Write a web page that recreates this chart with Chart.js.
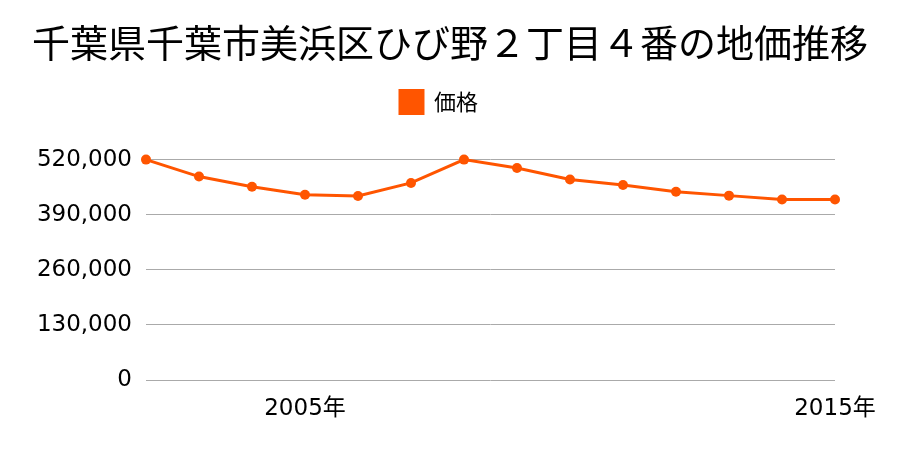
<!doctype html>
<html lang="ja">
<head>
  <meta charset="utf-8">
  <title>千葉県千葉市美浜区ひび野２丁目４番の地価推移</title>
  <script src="https://cdn.jsdelivr.net/npm/chart.js"></script>
  <style>
    html, body { margin: 0; background: #fff; }
    #wrap { width: 900px; height: 450px; }
  </style>
</head>
<body>
  <div id="wrap"><canvas id="chart"></canvas></div>
  <script>
    const years  = ['2002', '2003', '2004', '2005', '2006', '2007', '2008',
                    '2009', '2010', '2011', '2012', '2013', '2014', '2015'];
    const prices = [520000, 480000, 456000, 437000, 434000, 465000, 520000,
                    500000, 473000, 460000, 444000, 435000, 426000, 426000];
    const shownYears = ['2005', '2015'];
    const yTicks = [0, 130000, 260000, 390000, 520000];

    const cjk = "'Noto Sans CJK JP', sans-serif";
    const num = "'DejaVu Sans', 'Noto Sans CJK JP', sans-serif";
    const orange = '#ff5500';

    // extra room under the legend
    const legendGap = {
      id: 'legendGap',
      beforeInit(chart) {
        const fit = chart.legend.fit;
        chart.legend.fit = function () {
          fit.bind(chart.legend)();
          this.height += 36;
        };
      }
    };

    new Chart(document.getElementById('chart'), {
      type: 'line',
      data: {
        labels: years.map(y => y + '年'),
        datasets: [{
          label: '価格　',   // trailing full-width space nudges the legend left like the original
          data: prices,
          borderColor: orange,
          backgroundColor: orange,
          borderWidth: 3,
          pointRadius: 5,
          pointBorderWidth: 0,
          pointHoverRadius: 5,
          tension: 0,
          clip: false
        }]
      },
      options: {
        responsive: true,
        maintainAspectRatio: false,
        animation: false,
        layout: { padding: { left: 0, right: 0, top: 10, bottom: 20 } },
        plugins: {
          title: {
            display: true,
            text: '千葉県千葉市美浜区ひび野２丁目４番の地価推移',
            color: '#000',
            font: { family: cjk, size: 38, weight: 'normal' },
            padding: { top: 10, bottom: 13 }
          },
          legend: {
            labels: {
              color: '#000',
              boxWidth: 23,
              boxHeight: 23,
              font: { family: cjk, size: 22 },
              padding: 12
            }
          },
          tooltip: { enabled: false }
        },
        scales: {
          x: {
            offset: false,
            grid: { display: false },
            border: { display: false },
            afterFit: s => { s.height = 50; },
            ticks: {
              autoSkip: false,
              maxRotation: 0,
              color: '#000',
              padding: 7,
              font: { family: num, size: 23 },
              callback: function (v, i) {
                return shownYears.includes(years[i]) ? years[i] + '年' : '';
              }
            }
          },
          y: {
            min: yTicks[0],
            max: yTicks[yTicks.length - 1],
            border: { display: false },
            grid: { color: '#aaaaaa', drawTicks: false, lineWidth: 1 },
            afterFit: s => { s.width = 146; },
            afterBuildTicks: s => { s.ticks = yTicks.map(v => ({ value: v })); },
            ticks: {
              color: '#000',
              padding: 14,
              font: { family: num, size: 23 },
              callback: v => v.toLocaleString('en-US')
            }
          },
          // empty right axis, only keeps the plot 65px from the right edge
          yRight: {
            position: 'right',
            grid: { display: false },
            border: { display: false },
            ticks: { display: false },
            afterFit: s => { s.width = 65; }
          }
        }
      },
      plugins: [legendGap]
    });
  </script>
</body>
</html>
